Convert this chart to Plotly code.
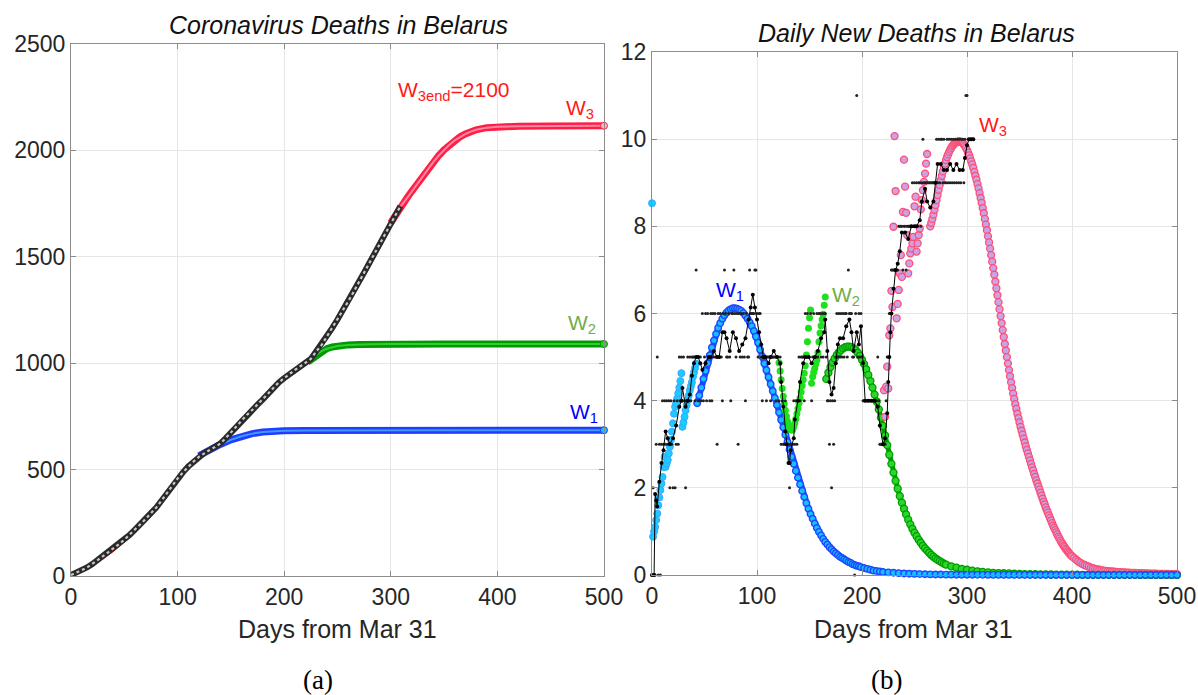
import plotly.graph_objects as go

# ================= Panel (a): accumulated deaths =================
cum_days = list(range(0, 306, 5)) + [309]
cum_vals = [5, 15, 27, 40, 56, 75, 93, 111, 130, 150,
            170, 193, 218, 243, 268, 295, 322, 355, 390, 428,
            458, 487, 515, 538, 560, 578, 592, 606, 622, 647,
            675, 700, 730, 757, 780, 805, 830, 858, 885, 910,
            930, 950, 968, 985, 1002, 1020, 1055, 1085, 1125, 1165,
            1205, 1247, 1290, 1334, 1380, 1426, 1472, 1518, 1565, 1612,
            1660, 1706, 1738]

red_days = list(range(0, 311, 10))
red_vals = [15, 30, 52, 82, 118, 160, 205, 255, 310, 375,
            450, 513, 560, 595, 630, 672, 725, 778, 830, 880,
            928, 970, 1005, 1048, 1115, 1195, 1280, 1370, 1462, 1555,
            1652, 1745]

w1a_days = [120, 130, 140, 150, 160, 170, 180, 190, 200, 220, 250, 300, 350, 400, 450, 500]
w1a_vals = [565, 596, 618, 640, 657, 669, 677, 681, 683, 684, 685, 685, 685, 685, 685, 685]

w2a_days = [222, 226, 230, 235, 240, 245, 250, 260, 270, 280, 300, 350, 400, 450, 500]
w2a_vals = [1005, 1020, 1040, 1057, 1068, 1076, 1081, 1086, 1088, 1089, 1090, 1090, 1090, 1090, 1090]

w3a_days = [300, 305, 310, 315, 320, 325, 330, 335, 340, 345, 350, 355, 360, 365,
            370, 375, 380, 390, 400, 420, 450, 500]
w3a_vals = [1660, 1703, 1742, 1775, 1810, 1846, 1880, 1914, 1946, 1976, 2003, 2027, 2047, 2064,
            2077, 2088, 2097, 2107, 2111, 2114, 2115, 2116]

# ================= Panel (b): daily new deaths =================
raw_days = list(range(0, 307))
raw_vals = [0, 2, 0, 0, 3, 5, 0, 3, 0, 3,
            4, 3, 4, 3, 4, 3, 4, 2, 4, 3,
            2, 4, 2, 3, 4, 3, 5, 4, 5, 4,
            5, 4, 2, 4, 5, 4, 5, 4, 5, 5,
            5, 4, 7, 5, 4, 4, 5, 4, 6, 4,
            5, 6, 4, 6, 5, 4, 6, 4, 6, 5,
            6, 5, 3, 6, 5, 6, 5, 4, 6, 7,
            6, 5, 5, 6, 5, 4, 6, 6, 7, 6,
            5, 6, 3, 6, 5, 6, 5, 6, 5, 4,
            6, 5, 5, 7, 6, 6, 6, 6, 7, 7,
            6, 5, 6, 6, 5, 4, 5, 5, 5, 4,
            5, 5, 5, 4, 5, 5, 5, 5, 4, 5,
            5, 4, 5, 3, 4, 3, 3, 4, 3, 3,
            3, 2, 3, 3, 3, 4, 3, 4, 3, 4,
            5, 4, 5, 5, 5, 4, 6, 5, 6, 5,
            5, 6, 4, 5, 6, 5, 5, 6, 5, 6,
            6, 5, 6, 5, 6, 6, 5, 4, 4, 3,
            4, 2, 4, 3, 4, 5, 6, 5, 6, 5,
            6, 5, 6, 5, 6, 6, 5, 7, 6, 6,
            6, 5, 5, 0, 6, 11, 5, 6, 5, 6,
            5, 4, 4, 4, 4, 4, 4, 4, 4, 4,
            4, 4, 4, 4, 4, 5, 4, 3, 3, 3,
            3, 3, 3, 4, 5, 5, 6, 6, 7, 7,
            7, 7, 7, 7, 7, 8, 8, 8, 8, 7,
            8, 8, 7, 8, 8, 8, 8, 8, 9, 8,
            9, 8, 9, 8, 9, 9, 8, 9, 10, 9,
            9, 9, 9, 9, 9, 9, 9, 9, 9, 9,
            9, 10, 9, 10, 9, 10, 10, 9, 10, 9,
            9, 10, 9, 10, 9, 10, 9, 10, 9, 10,
            9, 10, 9, 10, 9, 10, 10, 9, 10, 11,
            11, 10, 10, 10, 10, 10, 10]

sm_days = [0, 2, 3, 4, 5, 7, 9, 11, 13, 15,
           17, 20, 23, 26, 28, 29, 32, 34, 36, 38,
           40, 42, 44, 46, 48, 51, 54, 56, 59, 62,
           64, 67, 69, 71, 74, 77, 80, 83, 86, 89,
           92, 94, 96, 98, 100, 102, 104, 106, 108, 111,
           113, 116, 119, 122, 123, 125, 127, 128, 130, 131,
           132, 135, 136, 139, 141, 144, 146, 149, 152, 155,
           158, 161, 164, 165, 167, 169, 171, 173, 175, 177,
           179, 182, 185, 188, 190, 192, 195, 197, 199, 201,
           203, 206, 209, 212, 215, 217, 220, 222, 224, 225,
           226, 227, 228, 230, 232, 234, 236, 238, 241, 244,
           247, 250, 252, 255, 257, 260, 262, 265, 268, 270,
           272, 275, 278, 281, 284, 287, 290, 293, 296, 298,
           300, 302, 304, 306]
sm_vals = [0, 0, 1.86, 1.71, 1.57, 2.14, 2.57, 2.86, 3.29, 3.14,
           3.0, 3.14, 3.43, 3.86, 4.0, 4.29, 3.86, 4.0, 4.14, 4.57,
           4.86, 5.0, 5.0, 4.86, 4.71, 4.86, 5.0, 5.0, 5.14, 5.0,
           5.0, 5.57, 5.57, 5.43, 5.14, 5.57, 5.43, 5.14, 5.29, 5.43,
           5.86, 6.14, 6.43, 6.14, 5.86, 5.57, 5.29, 5.0, 5.0, 4.86,
           5.0, 5.14, 5.0, 4.86, 4.43, 3.86, 3.29, 3.0, 2.57, 2.57,
           2.86, 3.14, 3.57, 4.0, 4.43, 4.86, 5.0, 5.0, 4.86, 5.0,
           5.14, 5.43, 5.57, 5.86, 5.14, 4.43, 4.14, 4.29, 4.86, 5.29,
           5.43, 5.43, 5.71, 5.86, 5.57, 5.14, 5.57, 5.29, 5.71, 4.86,
           4.0, 4.0, 4.0, 4.0, 3.86, 3.43, 3.0, 3.14, 3.71, 4.43,
           5.0, 5.57, 6.0, 6.57, 7.0, 7.14, 7.43, 7.86, 7.86, 7.71,
           8.0, 8.0, 8.0, 8.14, 8.57, 8.86, 8.57, 8.43, 8.57, 9.0,
           9.43, 9.43, 9.29, 9.29, 9.43, 9.29, 9.43, 9.29, 9.29, 9.57,
           9.86, 10.0, 10.0, 10.0]

w1d_days = list(range(0, 43))
w1d_vals = [8.53, 0.88, 1.0, 1.1, 1.26, 1.41, 1.6, 1.78, 1.95, 2.1,
            2.25, 2.48, 2.71, 2.48, 2.56, 2.64, 2.79, 2.94, 3.1, 3.29,
            3.48, 3.7, 3.86, 3.94, 4.05, 4.17, 4.3, 4.45, 4.63, 3.4,
            3.5, 3.63, 3.78, 3.9, 4.01, 4.12, 4.24, 4.33, 4.42, 4.55,
            4.65, 4.75, 4.85]

w2d_days = list(range(121, 166))
w2d_vals = [4.87, 4.68, 4.48, 4.28, 4.1, 3.93, 3.78, 3.64, 3.53, 3.44,
            3.38, 3.34, 3.32, 3.34, 3.4, 3.48, 3.58, 3.7, 3.82, 3.94,
            4.06, 4.2, 4.34, 4.48, 4.63, 4.8, 5.05, 5.35, 5.66, 5.9,
            6.08, 4.4, 4.55, 4.65, 4.74, 4.84, 4.93, 5.1, 5.35, 5.55,
            5.72, 5.86, 5.98, 6.19, 6.38]

w3d_days = list(range(221, 263))
w3d_vals = [4.24, 3.63, 4.32, 4.78, 4.28, 5.5, 5.66, 6.52, 6.15, 7.99,
            10.07, 8.81, 5.89, 6.22, 6.54, 6.92, 7.34, 6.84, 8.33, 9.53,
            8.91, 8.31, 7.8, 6.92, 7.15, 7.38, 7.49, 7.61, 7.76, 8.46,
            8.68, 7.42, 7.61, 7.8, 7.95, 8.39, 8.6, 8.83, 9.02, 9.21,
            9.44, 9.66]

w1m_days = list(range(43, 200, 2)) + list(range(202, 221, 3)) + list(range(225, 501, 5))
w1m_vals = [3.94, 4.12, 4.3, 4.5, 4.68, 4.86, 5.04, 5.22, 5.38, 5.53,
            5.67, 5.78, 5.88, 5.96, 6.02, 6.07, 6.1, 6.12, 6.12, 6.11,
            6.09, 6.06, 6.01, 5.95, 5.88, 5.8, 5.71, 5.6, 5.47, 5.33,
            5.17, 5.01, 4.85, 4.7, 4.54, 4.38, 4.22, 4.06, 3.9, 3.73,
            3.56, 3.39, 3.22, 3.05, 2.88, 2.71, 2.55, 2.39, 2.23, 2.08,
            1.93, 1.79, 1.65, 1.52, 1.4, 1.29, 1.18, 1.08, 0.99, 0.91,
            0.83, 0.76, 0.7, 0.64, 0.59, 0.54, 0.5, 0.46, 0.42, 0.39,
            0.36, 0.33, 0.3, 0.28, 0.25, 0.23, 0.21, 0.2, 0.18,
            0.16, 0.14, 0.12, 0.1, 0.09, 0.08, 0.07,
            0.06, 0.05, 0.042, 0.035, 0.03, 0.025, 0.021, 0.018, 0.015, 0.012,
            0.01, 0.009, 0.008, 0.007, 0.006, 0.005, 0.005, 0.004, 0.004, 0.003,
            0.003, 0.003, 0.002, 0.002, 0.002, 0.002, 0.002, 0.001, 0.001, 0.001,
            0.001, 0.001, 0.001, 0.001, 0.001, 0.001, 0.001, 0.001, 0.001, 0.001,
            0.001, 0.001, 0.001, 0.001, 0, 0, 0, 0, 0, 0,
            0, 0, 0, 0, 0, 0]

w2m_days = list(range(166, 281, 2)) + list(range(285, 501, 5))
w2m_vals = [4.5, 4.64, 4.77, 4.88, 4.97, 5.05, 5.11, 5.16, 5.2, 5.23,
            5.24, 5.24, 5.23, 5.2, 5.16, 5.1, 5.03, 4.94, 4.84, 4.72,
            4.59, 4.45, 4.3, 4.14, 3.98, 3.8, 3.61, 3.42, 3.2, 2.98,
            2.76, 2.55, 2.35, 2.16, 1.98, 1.81, 1.66, 1.52, 1.39, 1.27,
            1.16, 1.06, 0.97, 0.89, 0.81, 0.74, 0.67, 0.61, 0.56, 0.51,
            0.46, 0.42, 0.38, 0.35, 0.32, 0.29, 0.26, 0.24,
            0.2, 0.17, 0.14, 0.12, 0.1, 0.085, 0.07, 0.06, 0.05, 0.045,
            0.04, 0.035, 0.03, 0.025, 0.022, 0.02, 0.017, 0.015, 0.013, 0.011,
            0.01, 0.009, 0.008, 0.007, 0.006, 0.005, 0.005, 0.004, 0.004, 0.003,
            0.003, 0.003, 0.002, 0.002, 0.002, 0.002, 0.001, 0.001, 0.001, 0.001,
            0.001, 0.001, 0.001, 0.001]

w3m_days = list(range(265, 401)) + list(range(402, 501, 2))
w3m_vals = [8.00, 8.08, 8.17, 8.27, 8.38, 8.49, 8.60, 8.72, 8.84, 8.95,
            9.06, 9.16, 9.26, 9.36, 9.44, 9.52, 9.59, 9.65, 9.71, 9.76,
            9.80, 9.84, 9.87, 9.90, 9.92, 9.93, 9.94, 9.95, 9.95, 9.94,
            9.93, 9.91, 9.88, 9.84, 9.80, 9.75, 9.69, 9.63, 9.56, 9.49,
            9.42, 9.34, 9.25, 9.16, 9.07, 8.97, 8.87, 8.76, 8.65, 8.54,
            8.42, 8.30, 8.17, 8.04, 7.91, 7.77, 7.63, 7.49, 7.34, 7.19,
            7.04, 6.89, 6.73, 6.58, 6.42, 6.26, 6.10, 5.94, 5.78, 5.62,
            5.46, 5.30, 5.15, 5.00, 4.85, 4.70, 4.56, 4.42, 4.29, 4.16,
            4.04, 3.92, 3.81, 3.70, 3.60, 3.50, 3.40, 3.31, 3.22, 3.13,
            3.04, 2.95, 2.87, 2.79, 2.71, 2.63, 2.55, 2.47, 2.40, 2.32,
            2.25, 2.17, 2.10, 2.03, 1.96, 1.89, 1.82, 1.75, 1.68, 1.62,
            1.55, 1.49, 1.43, 1.37, 1.31, 1.25, 1.19, 1.13, 1.08, 1.03,
            0.98, 0.93, 0.88, 0.84, 0.79, 0.75, 0.71, 0.67, 0.64, 0.60,
            0.57, 0.54, 0.51, 0.48, 0.45, 0.43,
            0.39, 0.35, 0.31, 0.28, 0.25, 0.23, 0.21, 0.19, 0.17, 0.155,
            0.14, 0.13, 0.12, 0.11, 0.10, 0.095, 0.09, 0.085, 0.08, 0.075,
            0.072, 0.068, 0.065, 0.062, 0.058, 0.055, 0.053, 0.05, 0.048, 0.046,
            0.044, 0.042, 0.04, 0.038, 0.036, 0.035, 0.033, 0.032, 0.03, 0.029,
            0.028, 0.027, 0.026, 0.025, 0.024, 0.023, 0.022, 0.021, 0.02, 0.02]

x_ticks = [0, 100, 200, 300, 400, 500]
ya_ticks = [0, 500, 1000, 1500, 2000, 2500]
yb_ticks = [0, 2, 4, 6, 8, 10, 12]

pairs = [(cum_days, cum_vals), (red_days, red_vals), (w1a_days, w1a_vals), (w2a_days, w2a_vals),
         (w3a_days, w3a_vals), (raw_days, raw_vals), (sm_days, sm_vals), (w1d_days, w1d_vals),
         (w2d_days, w2d_vals), (w3d_days, w3d_vals), (w1m_days, w1m_vals), (w2m_days, w2m_vals),
         (w3m_days, w3m_vals)]
for i, (a, b) in enumerate(pairs):
    assert len(a) == len(b), (i, len(a), len(b))

# ================= Figure =================
fig = go.Figure()
A = dict(xaxis="x", yaxis="y", cliponaxis=False, showlegend=False, hoverinfo="skip")
B = dict(xaxis="x2", yaxis="y2", cliponaxis=False, showlegend=False, hoverinfo="skip")

# --- panel (a)
fig.add_trace(go.Scatter(x=red_days, y=red_vals, mode="lines",
                         line=dict(color="#ff0000", width=1.5), **A))
for d, v, edge, inner, face in [(w1a_days, w1a_vals, "#1f3cff", "#3d9bff", "#10c8ff"),
                                (w2a_days, w2a_vals, "#009a00", "#2fcf2f", "#30d030"),
                                (w3a_days, w3a_vals, "#ff1f45", "#ff86a4", "#ffb3c6")]:
    fig.add_trace(go.Scatter(x=d, y=v, mode="lines", line=dict(color=edge, width=7), **A))
    fig.add_trace(go.Scatter(x=d, y=v, mode="lines", line=dict(color=inner, width=2), **A))
    fig.add_trace(go.Scatter(x=d[-1:], y=v[-1:], mode="markers",
                             marker=dict(size=7, color=face, line=dict(color=edge, width=1)), **A))
fig.add_trace(go.Scatter(x=cum_days, y=cum_vals, mode="lines",
                         line=dict(color="#2a2a2a", width=6), **A))
fig.add_trace(go.Scatter(x=cum_days, y=cum_vals, mode="lines",
                         line=dict(color="#c8c8c8", width=2.2, dash="dot"), **A))

# --- panel (b): models
fig.add_trace(go.Scatter(x=w3m_days, y=w3m_vals, mode="markers",
                         marker=dict(size=7, color="#c9a3e6", line=dict(color="#ff4d73", width=1.3)), **B))
fig.add_trace(go.Scatter(x=w2m_days, y=w2m_vals, mode="lines+markers",
                         line=dict(color="#009c00", width=5),
                         marker=dict(size=7, color="#2ad62a", line=dict(color="#009c00", width=1.3)), **B))
fig.add_trace(go.Scatter(x=w1m_days, y=w1m_vals, mode="lines+markers",
                         line=dict(color="#1f46ff", width=6),
                         marker=dict(size=6.5, color="#14c0ff", line=dict(color="#1f46ff", width=1.4)), **B))
# data-derived points
fig.add_trace(go.Scatter(x=w1d_days, y=w1d_vals, mode="markers",
                         marker=dict(size=7, color="#19ccff", line=dict(color="#3aa6ff", width=1)), **B))
fig.add_trace(go.Scatter(x=w2d_days, y=w2d_vals, mode="markers",
                         marker=dict(size=7, color="#1ee01e", line=dict(width=0)), **B))
fig.add_trace(go.Scatter(x=w3d_days, y=w3d_vals, mode="markers",
                         marker=dict(size=7, color="#c9a3e6", line=dict(color="#ff4d73", width=1.3)), **B))
# raw and smoothed
fig.add_trace(go.Scatter(x=raw_days, y=raw_vals, mode="markers",
                         marker=dict(size=3, color="#222222"), **B))
fig.add_trace(go.Scatter(x=sm_days, y=sm_vals, mode="lines+markers",
                         line=dict(color="#000000", width=1),
                         marker=dict(size=4, color="#000000"), **B))

FONT = "Liberation Sans, Arial, Helvetica, sans-serif"
axis_common = dict(showline=True, linecolor="#8c8c8c", linewidth=1, mirror="ticks",
                   ticks="inside", ticklen=5, tickcolor="#8c8c8c", automargin=False,
                   showgrid=True, gridcolor="#e6e6e6", gridwidth=1, zeroline=False,
                   tickfont=dict(family=FONT, size=23, color="#262626"))

fig.update_layout(
    width=1198, height=695, autosize=False,
    margin=dict(l=0, r=0, t=0, b=0, pad=0, autoexpand=False),
    paper_bgcolor="white", plot_bgcolor="white",
    xaxis=dict(domain=[71 / 1198, 604 / 1198], range=[0, 500], tickvals=x_ticks, anchor="y", **axis_common),
    yaxis=dict(domain=[1 - 576 / 695, 1 - 44 / 695], range=[0, 2500], tickvals=ya_ticks, anchor="x", **axis_common),
    xaxis2=dict(domain=[652 / 1198, 1177 / 1198], range=[0, 500], tickvals=x_ticks, anchor="y2", **axis_common),
    yaxis2=dict(domain=[1 - 575 / 695, 1 - 52 / 695], range=[0, 12], tickvals=yb_ticks, anchor="x2", **axis_common),
)

def ann(text, x, y, size, color="#000000", family=FONT):
    fig.add_annotation(text=text, x=x / 1198, y=1 - y / 695, xref="paper", yref="paper",
                       xanchor="center", yanchor="middle", showarrow=False,
                       font=dict(family=family, size=size, color=color))

ann("<i>Coronavirus Deaths in Belarus</i>", 338, 25, 25, "#111111")
ann("<i>Daily New Deaths in Belarus</i>", 916, 33, 25, "#111111")
ann("Days from Mar 31", 337, 629, 25, "#262626")
ann("Days from Mar 31", 914, 629, 25, "#262626")
ann("(a)", 318, 680, 27, "#000000", "Liberation Serif, Times New Roman, serif")
ann("(b)", 886, 680, 27, "#000000", "Liberation Serif, Times New Roman, serif")

ann("W<sub>3end</sub>=2100", 454, 91, 21, "#ff1a1a")
ann("W<sub>3</sub>", 580, 109, 21, "#ff1a1a")
ann("W<sub>2</sub>", 582, 324, 21, "#70ad47")
ann("W<sub>1</sub>", 584, 413, 21, "#0000ff")
ann("W<sub>1</sub>", 730, 291, 21, "#0000ff")
ann("W<sub>2</sub>", 846, 296, 21, "#70ad47")
ann("W<sub>3</sub>", 993, 126, 21, "#ff1a1a")

fig.write_html("out.html", config={"responsive": False})
